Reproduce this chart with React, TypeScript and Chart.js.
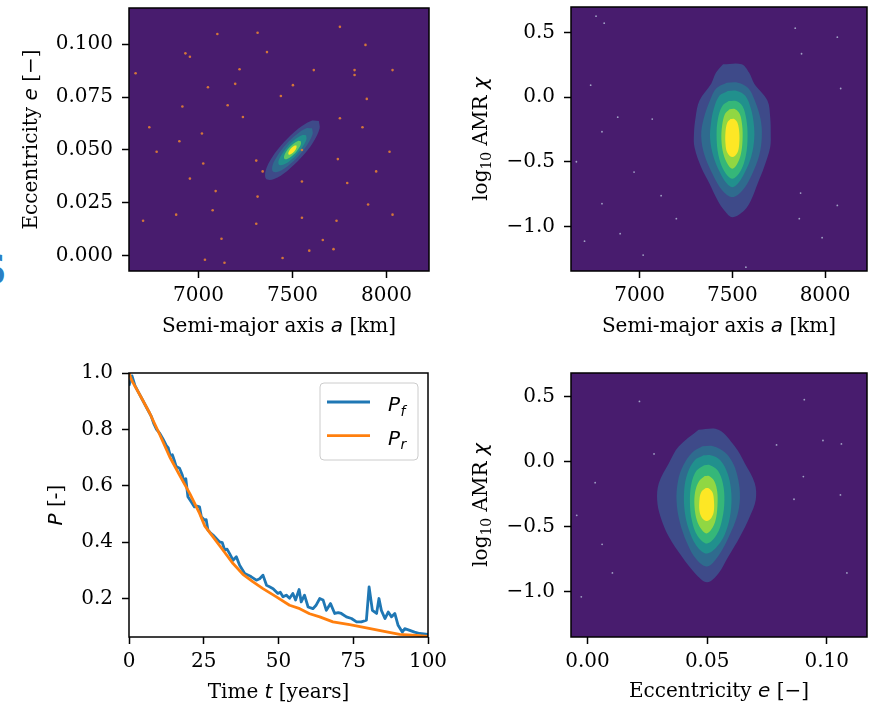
import React, { useEffect, useRef } from "react";
import { Chart, registerables } from "chart.js";
Chart.register(...registerables);

// ---------------- ticks ----------------
const aTicks = [7000, 7500, 8000];
const aTickLabels = ["7000", "7500", "8000"];
const eTicks = [0, 0.025, 0.05, 0.075, 0.1];
const eTickLabels = ["0.000", "0.025", "0.050", "0.075", "0.100"];
const eTicksShort = [0, 0.05, 0.1];
const eTickLabelsShort = ["0.00", "0.05", "0.10"];
const amrTicks = [-1.0, -0.5, 0.0, 0.5];
const amrTickLabels = ["\u22121.0", "\u22120.5", "0.0", "0.5"];
const tTicks = [0, 25, 50, 75, 100];
const tTickLabels = ["0", "25", "50", "75", "100"];
const pTicks = [0.2, 0.4, 0.6, 0.8, 1.0];
const pTickLabels = ["0.2", "0.4", "0.6", "0.8", "1.0"];

// ---------------- panel 1: a vs e density levels (outer -> inner) ----------------
const aeLevel1 = [[7640,0.0637],[7644,0.0601],[7610,0.0537],[7546,0.0464],[7470,0.0400],[7402,0.0363],[7360,0.0363],[7356,0.0399],[7390,0.0463],[7454,0.0536],[7530,0.0600],[7598,0.0637]];
const aeLevel2 = [[7604,0.0602],[7607,0.0575],[7581,0.0528],[7534,0.0473],[7477,0.0426],[7427,0.0398],[7396,0.0398],[7393,0.0425],[7419,0.0472],[7466,0.0527],[7523,0.0574],[7573,0.0602]];
const aeLevel3 = [[7572,0.0570],[7574,0.0551],[7556,0.0519],[7524,0.0481],[7485,0.0448],[7450,0.0430],[7428,0.0430],[7426,0.0449],[7444,0.0481],[7476,0.0519],[7515,0.0552],[7550,0.0570]];
const aeLevel4 = [[7543,0.0542],[7545,0.0530],[7535,0.0510],[7516,0.0487],[7492,0.0468],[7471,0.0457],[7457,0.0458],[7455,0.0470],[7465,0.0490],[7484,0.0513],[7508,0.0532],[7529,0.0543]];
const aeLevel5 = [[7521,0.0521],[7521,0.0510],[7509,0.0493],[7491,0.0480],[7479,0.0479],[7479,0.0490],[7491,0.0507],[7509,0.0520]];
const aeLevelColors = ["#3e4a89", "#2f6b8e", "#21908d", "#5ec962", "#fde725"];
const aeSampleA = [7100,7314,7752,7888,6930,6954,7364,6665,7218,7613,7830,7830,8032,7195,7050,7502,7438,7895,6914,7155,7236,7752,6738,7872,7018,6898,6777,8016,7550,7307,7741,7025,7341,7945,6954,7550,7791,7091,7314,7902,7075,6881,6705,7550,7734,7307,8032,7122,7661,7718,7589,7447,7034,7138];
const aeSampleE = [0.1047,0.1053,0.1081,0.0996,0.0956,0.0940,0.0962,0.0862,0.0881,0.0877,0.0877,0.0854,0.0877,0.0812,0.0796,0.0806,0.0755,0.0741,0.0705,0.0711,0.0656,0.0650,0.0607,0.0607,0.0578,0.0541,0.0492,0.0492,0.0500,0.0450,0.0457,0.0436,0.0399,0.0399,0.0365,0.0351,0.0344,0.0306,0.0280,0.0243,0.0216,0.0195,0.0166,0.0180,0.0166,0.0152,0.0195,0.0081,0.0075,0.0032,0.0025,-0.0010,-0.0018,-0.0032];

// ---------------- panel 2: a vs log10 AMR levels (outer -> inner) ----------------
const aChiLevel1 = [[7450,0.255],[7550,0.255],[7590,0.19],[7618,0.104],[7689,-0.026],[7704,-0.155],[7707,-0.283],[7704,-0.387],[7671,-0.542],[7636,-0.670],[7600,-0.800],[7564,-0.877],[7500,-0.929],[7457,-0.877],[7421,-0.800],[7377,-0.670],[7332,-0.542],[7296,-0.387],[7293,-0.283],[7302,-0.155],[7323,-0.026],[7386,0.104],[7412,0.19]];
const aChiLevel2 = [[7470,0.112],[7530,0.112],[7585,0.07],[7622,-0.03],[7652,-0.17],[7659,-0.30],[7645,-0.45],[7605,-0.60],[7555,-0.72],[7500,-0.774],[7445,-0.72],[7395,-0.60],[7350,-0.45],[7332,-0.30],[7345,-0.17],[7378,-0.03],[7415,0.07]];
const aChiLevel3 = [[7475,0.048],[7525,0.048],[7570,0.01],[7600,-0.09],[7615,-0.20],[7618,-0.32],[7602,-0.46],[7568,-0.58],[7532,-0.665],[7500,-0.697],[7468,-0.665],[7432,-0.58],[7398,-0.46],[7380,-0.32],[7385,-0.20],[7400,-0.09],[7430,0.01]];
const aChiLevel4 = [[7480,-0.03],[7520,-0.03],[7555,-0.07],[7575,-0.17],[7582,-0.30],[7573,-0.45],[7545,-0.57],[7500,-0.632],[7455,-0.57],[7425,-0.45],[7415,-0.30],[7422,-0.17],[7445,-0.07]];
const aChiLevel5 = [[7485,-0.093],[7515,-0.093],[7540,-0.13],[7553,-0.22],[7555,-0.33],[7546,-0.44],[7525,-0.52],[7500,-0.554],[7475,-0.52],[7452,-0.44],[7441,-0.33],[7445,-0.22],[7460,-0.13]];
const aChiLevel6 = [[7490,-0.17],[7510,-0.17],[7528,-0.20],[7537,-0.27],[7537,-0.36],[7527,-0.43],[7500,-0.464],[7473,-0.43],[7463,-0.36],[7463,-0.27],[7472,-0.20]];
const chiLevelColors = ["#3e4a89", "#2f6b8e", "#21908d", "#35b779", "#90d743", "#fde725"];
const aChiSampleA = [6765,6809,7839,8066,7873,6736,8084,6882,6797,7068,6659,6970,7116,7868,6797,8066,7198,7861,6895,6703,7019,7984,7573];
const aChiSampleChi = [0.627,0.573,0.534,0.464,0.336,0.093,0.067,-0.155,-0.268,-0.170,-0.5,-0.58,-0.763,-0.743,-0.825,-0.838,-0.941,-0.941,-1.057,-1.115,-1.223,-1.088,-1.316];

// ---------------- panel 4: e vs log10 AMR levels (outer -> inner) ----------------
const eChiLevel1 = [[0.0464,0.244],[0.0547,0.244],[0.0616,0.115],[0.0657,-0.012],[0.0699,-0.166],[0.0703,-0.295],[0.0678,-0.423],[0.0637,-0.577],[0.0588,-0.731],[0.0547,-0.858],[0.0500,-0.925],[0.0450,-0.858],[0.0395,-0.731],[0.0340,-0.577],[0.0305,-0.423],[0.0291,-0.295],[0.0298,-0.166],[0.0340,-0.012],[0.0381,0.115]];
const eChiLevel2 = [[0.0480,0.118],[0.0525,0.118],[0.0575,0.07],[0.0610,-0.02],[0.0630,-0.14],[0.0637,-0.28],[0.0625,-0.42],[0.0592,-0.57],[0.0548,-0.72],[0.0500,-0.805],[0.0455,-0.75],[0.0415,-0.62],[0.0385,-0.46],[0.0372,-0.30],[0.0378,-0.15],[0.0400,-0.03],[0.0438,0.07]];
const eChiLevel3 = [[0.0485,0.048],[0.0515,0.048],[0.0555,0.01],[0.0585,-0.09],[0.0600,-0.22],[0.0600,-0.36],[0.0585,-0.50],[0.0555,-0.62],[0.0500,-0.705],[0.0455,-0.645],[0.0423,-0.52],[0.0406,-0.38],[0.0404,-0.22],[0.0418,-0.09],[0.0448,0.01]];
const eChiLevel4 = [[0.0488,-0.027],[0.0512,-0.027],[0.0545,-0.07],[0.0566,-0.17],[0.0572,-0.30],[0.0563,-0.44],[0.0540,-0.56],[0.0500,-0.628],[0.0460,-0.57],[0.0436,-0.45],[0.0428,-0.31],[0.0434,-0.17],[0.0455,-0.07]];
const eChiLevel5 = [[0.0490,-0.11],[0.0508,-0.11],[0.0530,-0.15],[0.0542,-0.23],[0.0543,-0.34],[0.0535,-0.45],[0.0518,-0.52],[0.0497,-0.551],[0.0476,-0.52],[0.0457,-0.45],[0.0447,-0.34],[0.0450,-0.23],[0.0466,-0.15]];
const eChiLevel6 = [[0.0492,-0.205],[0.0506,-0.205],[0.0522,-0.235],[0.0528,-0.29],[0.0528,-0.38],[0.0518,-0.43],[0.0498,-0.455],[0.0478,-0.43],[0.0468,-0.38],[0.0468,-0.29],[0.0475,-0.235]];
const eChiSampleE = [0.0217,0.0906,0.0278,0.0984,0.079,0.1061,0.0032,0.0902,0.0863,0.1057,-0.0045,0.0061,0.0104,-0.0026,0.1084];
const eChiSampleChi = [0.462,0.475,0.059,0.162,0.128,0.136,-0.162,-0.115,-0.289,-0.256,-0.412,-0.635,-0.854,-1.038,-0.854];

// ---------------- panel 3: probability curves ----------------
const pfT = [0,1,2,3,4.5,6,7.5,8.3,9.2,10.3,11.4,12.5,13.1,13.8,14.5,15.3,15.8,16.9,17.8,18.4,19.0,19.7,20.8,21.9,22.7,23.6,24.2,25.3,25.8,26.4,27.3,28.1,29.2,30.3,31.2,32.0,32.8,33.6,34.8,35.9,37.0,38.7,40.1,40.9,42.6,43.7,44.8,46.0,47.0,48.2,49.8,50.6,51.5,52.6,53.7,54.8,55.7,56.9,57.6,58.7,59.9,61.5,62.5,63.8,64.9,66.0,67.4,68.8,70.0,71.0,72.7,74.4,76.1,77.7,79.4,80.3,81.4,82.8,83.6,84.4,85.6,86.7,87.8,88.9,90.0,91.4,92.2,93.9,95.5,97.2,100];
const pfP = [0.955,0.99,0.955,0.935,0.905,0.875,0.845,0.82,0.80,0.786,0.765,0.742,0.735,0.707,0.71,0.685,0.668,0.662,0.639,0.615,0.625,0.561,0.543,0.525,0.528,0.525,0.49,0.478,0.48,0.443,0.432,0.425,0.413,0.401,0.398,0.372,0.375,0.36,0.336,0.348,0.318,0.289,0.282,0.277,0.265,0.27,0.283,0.247,0.242,0.235,0.218,0.222,0.206,0.212,0.201,0.218,0.195,0.232,0.188,0.212,0.170,0.164,0.175,0.200,0.195,0.158,0.182,0.147,0.150,0.147,0.135,0.129,0.117,0.117,0.123,0.241,0.158,0.147,0.200,0.158,0.129,0.152,0.135,0.147,0.105,0.081,0.093,0.087,0.081,0.076,0.073];
const prT = [0,1,3.6,6.9,10.3,13.6,16.9,20.3,23.6,25.3,28.1,31.4,34.8,38.1,41.5,44.8,49.3,53.7,57.1,60.4,63.8,68.2,73.8,79.4,84.9,90.5,96.1,100];
const prP = [1.0,0.972,0.923,0.858,0.781,0.703,0.638,0.573,0.502,0.458,0.419,0.372,0.324,0.286,0.259,0.235,0.206,0.176,0.164,0.146,0.135,0.117,0.107,0.096,0.084,0.073,0.069,0.066];
const legendMain = ["P", "P"];
const legendSub = ["f", "r"];
const seriesColors = ["#1f77b4", "#ff7f0e"];

// ---------------- styling ----------------
const FS = 20;
const SERIF = `${FS}px 'DejaVu Serif'`;
const ITAL = `italic ${FS}px 'DejaVu Sans'`;
const SUB = `14px 'DejaVu Serif'`;
const SUBI = `italic 14px 'DejaVu Sans'`;
const BG = "#481c6e";

type Part = { t: string; f: string; dy?: number };

function drawRich(ctx: CanvasRenderingContext2D, parts: Part[], x: number, y: number, vertical: boolean) {
  ctx.save();
  ctx.translate(x, y);
  if (vertical) ctx.rotate(-Math.PI / 2);
  ctx.textBaseline = "alphabetic";
  ctx.textAlign = "left";
  ctx.fillStyle = "#000";
  const widths = parts.map((p) => { ctx.font = p.f; return ctx.measureText(p.t).width; });
  const total = widths.reduce((s, w) => s + w, 0);
  let cx = -total / 2;
  parts.forEach((p, i) => { ctx.font = p.f; ctx.fillText(p.t, cx, p.dy || 0); cx += widths[i]; });
  ctx.restore();
}

function roundRect(ctx: CanvasRenderingContext2D, x: number, y: number, w: number, h: number, r: number) {
  ctx.beginPath();
  ctx.moveTo(x + r, y);
  ctx.arcTo(x + w, y, x + w, y + h, r);
  ctx.arcTo(x + w, y + h, x, y + h, r);
  ctx.arcTo(x, y + h, x, y, r);
  ctx.arcTo(x, y, x + w, y, r);
  ctx.closePath();
}

const polyDs = (pts: number[][], color: string, order: number) => ({
  data: [...pts, pts[0]].map(([x, y]) => ({ x, y })),
  showLine: true,
  fill: "shape",
  backgroundColor: color,
  borderColor: "rgba(0,0,0,0)",
  borderWidth: 0,
  pointRadius: 0,
  pointHoverRadius: 0,
  tension: 0.35,
  order,
});

const dotDs = (xs: number[], ys: number[], color: string, r: number) => ({
  data: xs.map((x, i) => ({ x, y: ys[i] })),
  showLine: false,
  pointRadius: r,
  pointBorderWidth: 0,
  borderWidth: 0,
  backgroundColor: color,
  borderColor: color,
  order: 0,
});

const lineDs = (ts: number[], ps: number[], color: string, order: number) => ({
  data: ts.map((t, i) => ({ x: t, y: ps[i] })),
  showLine: true,
  fill: false,
  borderColor: color,
  backgroundColor: color,
  borderWidth: 2.8,
  borderJoinStyle: "round",
  pointRadius: 0,
  pointHoverRadius: 0,
  tension: 0,
  order,
});

function axis(min: number, max: number, ticks: number[], labels: string[], fixed: number, isX: boolean) {
  return {
    type: "linear",
    min,
    max,
    bounds: "data",
    afterBuildTicks: (sc: any) => { sc.ticks = ticks.map((v) => ({ value: v })); },
    afterFit: (sc: any) => {
      if (isX) sc.height = fixed; else sc.width = fixed;
      sc.paddingTop = 0; sc.paddingBottom = 0; sc.paddingLeft = 0; sc.paddingRight = 0;
    },
    ticks: {
      autoSkip: false,
      maxRotation: 0,
      minRotation: 0,
      padding: isX ? 6 : 9,
      color: "#000",
      font: { family: "'DejaVu Serif'", size: FS },
      callback: (_v: any, i: number) => labels[i],
    },
    grid: { display: true, drawOnChartArea: false, drawTicks: true, tickLength: 7, tickWidth: 1.5, tickColor: "#000", color: "#000" },
    border: { display: false },
    title: { display: false },
  };
}

interface Spec {
  key: string;
  left: number; top: number; width: number; height: number;
  area: { l: number; t: number; r: number; b: number };
  x: [number, number]; y: [number, number];
  xTicks: number[]; xLabels: string[]; yTicks: number[]; yLabels: string[];
  datasets: any[];
  background?: string;
  xTitle: Part[]; yTitle: Part[];
  xTitleOff: number; yTitleOff: number;
  legend?: boolean;
}

function drawLegend(ctx: CanvasRenderingContext2D, a: any) {
  const bw = 98, bh = 77;
  const bx = a.right - 10 - bw, by = a.top + 10;
  ctx.save();
  roundRect(ctx, bx, by, bw, bh, 4);
  ctx.fillStyle = "rgba(255,255,255,0.8)";
  ctx.fill();
  ctx.strokeStyle = "#cccccc";
  ctx.lineWidth = 1;
  ctx.stroke();
  legendMain.forEach((m, i) => {
    const ly = by + 19 + i * 33.7;
    ctx.beginPath();
    ctx.moveTo(bx + 7, ly);
    ctx.lineTo(bx + 50, ly);
    ctx.strokeStyle = seriesColors[i];
    ctx.lineWidth = 2.8;
    ctx.stroke();
    ctx.fillStyle = "#000";
    ctx.textBaseline = "alphabetic";
    ctx.textAlign = "left";
    ctx.font = ITAL;
    ctx.fillText(m, bx + 68, ly + 9.4);
    const w = ctx.measureText(m).width;
    ctx.font = SUBI;
    ctx.fillText(legendSub[i], bx + 68 + w + 0.5, ly + 13.5);
  });
  ctx.restore();
}

function makeConfig(s: Spec): any {
  const decor = {
    id: "panelDecor",
    beforeDatasetsDraw(chart: any) {
      if (!s.background) return;
      const { ctx, chartArea: a } = chart;
      ctx.save();
      ctx.fillStyle = s.background;
      ctx.fillRect(a.left, a.top, a.right - a.left, a.bottom - a.top);
      ctx.restore();
    },
    afterDraw(chart: any) {
      const { ctx, chartArea: a } = chart;
      ctx.save();
      ctx.strokeStyle = "#000";
      ctx.lineWidth = 1.5;
      ctx.strokeRect(a.left, a.top, a.right - a.left, a.bottom - a.top);
      ctx.restore();
      drawRich(ctx, s.xTitle, (a.left + a.right) / 2, a.bottom + s.xTitleOff, false);
      drawRich(ctx, s.yTitle, a.left - s.yTitleOff, (a.top + a.bottom) / 2, true);
      if (s.legend) drawLegend(ctx, a);
    },
  };
  return {
    type: "scatter",
    data: { datasets: s.datasets },
    options: {
      animation: false,
      responsive: false,
      maintainAspectRatio: false,
      devicePixelRatio: 1,
      events: [],
      layout: { padding: { left: 0, top: s.area.t, right: s.width - s.area.r, bottom: 0 } },
      plugins: { legend: { display: false }, tooltip: { enabled: false } },
      scales: {
        x: axis(s.x[0], s.x[1], s.xTicks, s.xLabels, s.height - s.area.b, true),
        y: axis(s.y[0], s.y[1], s.yTicks, s.yLabels, s.area.l, false),
      },
    },
    plugins: [decor],
  };
}

function Panel({ spec }: { spec: Spec }) {
  const ref = useRef<HTMLCanvasElement>(null);
  useEffect(() => {
    const chart = new Chart(ref.current as HTMLCanvasElement, makeConfig(spec));
    return () => chart.destroy();
  }, []);
  return (
    <canvas
      ref={ref}
      width={spec.width}
      height={spec.height}
      style={{ position: "absolute", left: spec.left, top: spec.top, width: spec.width, height: spec.height }}
    />
  );
}

const titleA: Part[] = [{ t: "Semi-major axis ", f: SERIF }, { t: "a", f: ITAL }, { t: " [km]", f: SERIF }];
const titleE: Part[] = [{ t: "Eccentricity ", f: SERIF }, { t: "e", f: ITAL }, { t: " [\u2212]", f: SERIF }];
const titleChi: Part[] = [{ t: "log", f: SERIF }, { t: "10", f: SUB, dy: 4 }, { t: " AMR ", f: SERIF }, { t: "\u03c7", f: ITAL }];
const titleT: Part[] = [{ t: "Time ", f: SERIF }, { t: "t", f: ITAL }, { t: " [years]", f: SERIF }];
const titleP: Part[] = [{ t: "P", f: ITAL }, { t: " [-]", f: SERIF }];

const specs: Spec[] = [
  {
    key: "ae",
    left: 0, top: 0, width: 440, height: 340,
    area: { l: 129, t: 8, r: 429, b: 271 },
    x: [6630, 8226], y: [-0.0071, 0.117],
    xTicks: aTicks, xLabels: aTickLabels, yTicks: eTicks, yLabels: eTickLabels,
    background: BG,
    datasets: [
      dotDs(aeSampleA, aeSampleE, "rgba(226,128,52,0.9)", 1.3),
      polyDs(aeLevel5, aeLevelColors[4], 1),
      polyDs(aeLevel4, aeLevelColors[3], 2),
      polyDs(aeLevel3, aeLevelColors[2], 3),
      polyDs(aeLevel2, aeLevelColors[1], 4),
      polyDs(aeLevel1, aeLevelColors[0], 5),
    ],
    xTitle: titleA, yTitle: titleE, xTitleOff: 61, yTitleOff: 92,
  },
  {
    key: "achi",
    left: 440, top: 0, width: 431, height: 340,
    area: { l: 131, t: 7, r: 430, b: 271 },
    x: [6630, 8226], y: [-1.346, 0.698],
    xTicks: aTicks, xLabels: aTickLabels, yTicks: amrTicks, yLabels: amrTickLabels,
    background: BG,
    datasets: [
      dotDs(aChiSampleA, aChiSampleChi, "rgba(190,205,225,0.75)", 0.9),
      polyDs(aChiLevel6, chiLevelColors[5], 1),
      polyDs(aChiLevel5, chiLevelColors[4], 2),
      polyDs(aChiLevel4, chiLevelColors[3], 3),
      polyDs(aChiLevel3, chiLevelColors[2], 4),
      polyDs(aChiLevel2, chiLevelColors[1], 5),
      polyDs(aChiLevel1, chiLevelColors[0], 6),
    ],
    xTitle: titleA, yTitle: titleChi, xTitleOff: 61, yTitleOff: 84,
  },
  {
    key: "p",
    left: 0, top: 350, width: 460, height: 354,
    area: { l: 129, t: 23, r: 428, b: 287 },
    x: [0, 100], y: [0.0635, 1.0],
    xTicks: tTicks, xLabels: tTickLabels, yTicks: pTicks, yLabels: pTickLabels,
    datasets: [
      lineDs(prT, prP, seriesColors[1], 0),
      lineDs(pfT, pfP, seriesColors[0], 1),
    ],
    xTitle: titleT, yTitle: titleP, xTitleOff: 61, yTitleOff: 67,
    legend: true,
  },
  {
    key: "echi",
    left: 460, top: 350, width: 411, height: 354,
    area: { l: 111, t: 23, r: 410, b: 287 },
    x: [-0.0069, 0.1168], y: [-1.346, 0.68],
    xTicks: eTicksShort, xLabels: eTickLabelsShort, yTicks: amrTicks, yLabels: amrTickLabels,
    background: BG,
    datasets: [
      dotDs(eChiSampleE, eChiSampleChi, "rgba(190,205,225,0.75)", 0.9),
      polyDs(eChiLevel6, chiLevelColors[5], 1),
      polyDs(eChiLevel5, chiLevelColors[4], 2),
      polyDs(eChiLevel4, chiLevelColors[3], 3),
      polyDs(eChiLevel3, chiLevelColors[2], 4),
      polyDs(eChiLevel2, chiLevelColors[1], 5),
      polyDs(eChiLevel1, chiLevelColors[0], 6),
    ],
    xTitle: titleE, yTitle: titleChi, xTitleOff: 60, yTitleOff: 84,
  },
];

export default function App() {
  return (
    <div style={{ position: "absolute", left: 0, top: 0, width: 871, height: 704, background: "#fff", overflow: "hidden" }}>
      <span
        style={{
          position: "absolute", left: -22, top: 250, fontFamily: "'DejaVu Sans'", fontWeight: "bold",
          fontSize: 40, lineHeight: "40px", color: "#2a7fc4",
        }}
      >
        S
      </span>
      {specs.map((s) => (
        <Panel key={s.key} spec={s} />
      ))}
    </div>
  );
}
